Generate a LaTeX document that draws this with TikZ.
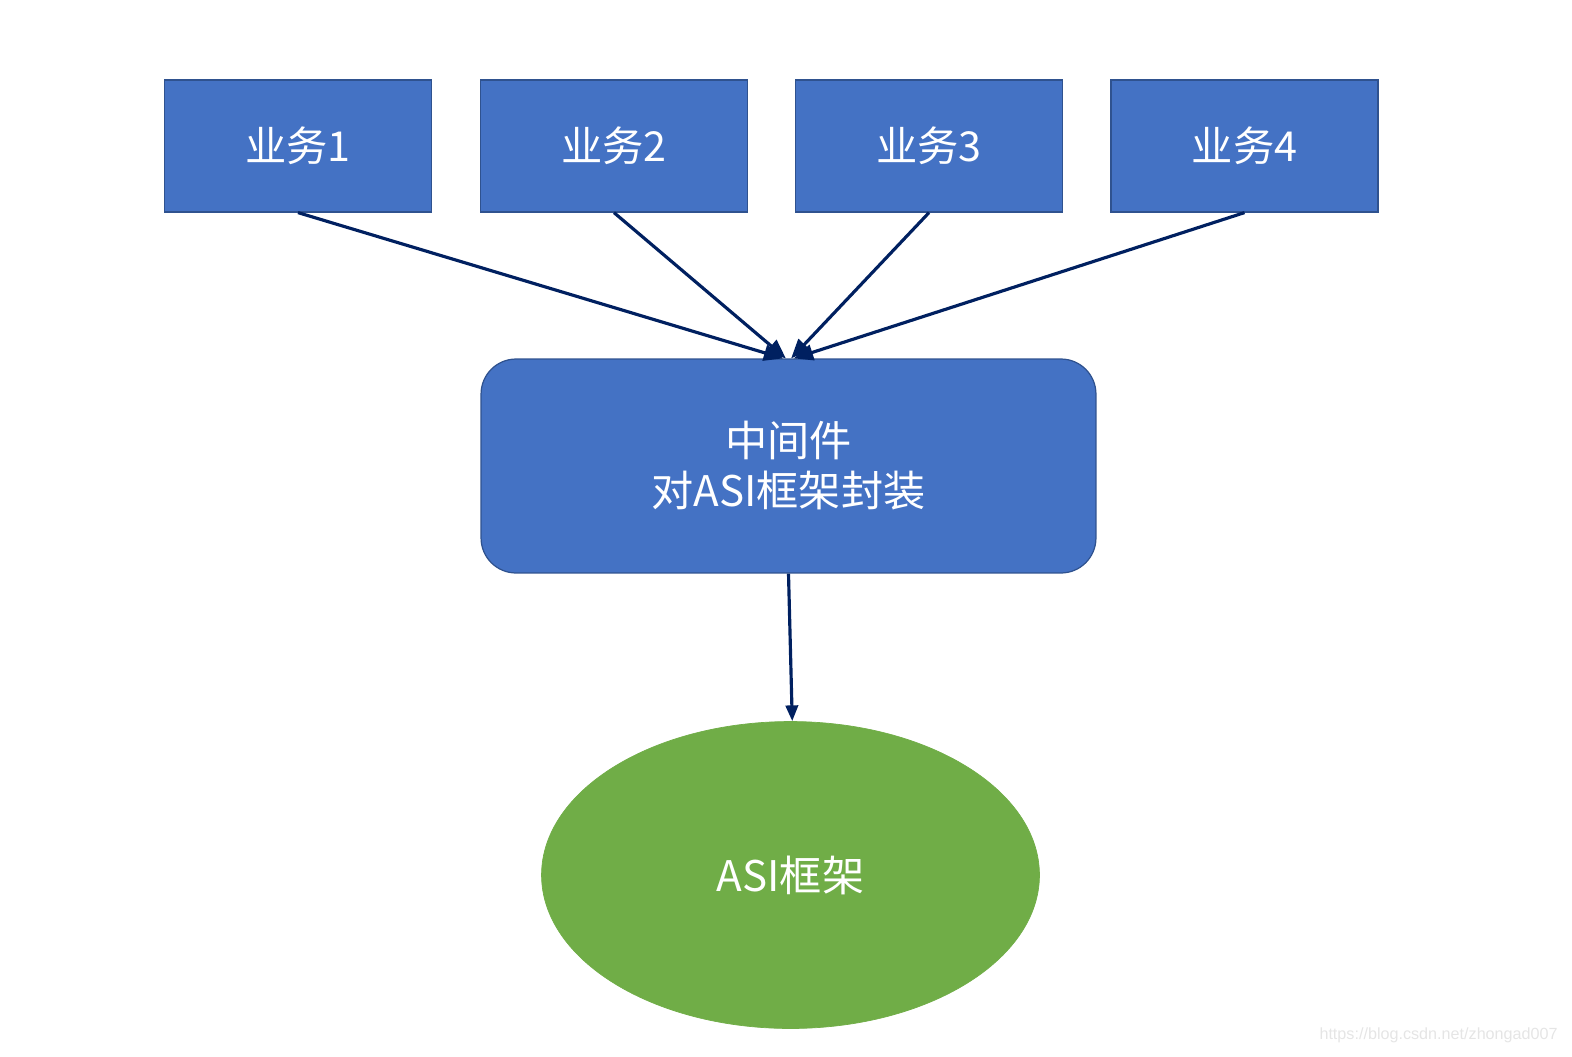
\documentclass[tikz,border=0pt]{standalone}
\usepackage{fontspec}
\setmainfont{Noto Sans CJK SC}
\newfontfamily\markfont{Liberation Sans}
\usetikzlibrary{shapes.geometric}
\usetikzlibrary{arrows.meta}
\definecolor{boxblue}{HTML}{4472C4}
\definecolor{boxline}{HTML}{2F528F}
\definecolor{arrowblue}{HTML}{002060}
\definecolor{leafgreen}{HTML}{70AD47}
\tikzset{%
    job/.style={shape=rectangle,draw=boxline,fill=boxblue,line width=0.7pt,minimum width=5.34cm,minimum height=2.64cm,inner sep=0pt,text=white,font=\fontsize{23.5}{29}\selectfont},
    middleware/.style={shape=rectangle,rounded corners=0.7cm,draw=boxline,fill=boxblue,line width=0.7pt,minimum width=12.3cm,minimum height=4.28cm,inner sep=0pt,text=white,align=center,font=\fontsize{24}{28.5}\selectfont},
    framework/.style={shape=ellipse,draw=leafgreen,fill=leafgreen,minimum width=9.96cm,minimum height=6.14cm,inner sep=0pt,text=white,font=\fontsize{24}{29}\selectfont},
    link/.style={-{Triangle[length=11pt,width=9pt]},draw=arrowblue,line width=1.8pt},
}
\begin{document}
\begin{tikzpicture}[x=0.02cm,y=-0.02cm]
	\useasboundingbox (0,0) rectangle (1572,1056);
	
	%business boxes
	\node[job] (job1) at (298,146) {业务1};
	\node[job] (job2) at (614,146) {业务2};
	\node[job] (job3) at (929,146) {业务3};
	\node[job] (job4) at (1244.5,146) {业务4};
	%%%%%%%%%%%%%%%%%%%
	
	\node[middleware] (mw) at (788.5,466) {中间件\\对ASI框架封装};
	\node[framework] (asi) at (790.5,875) {ASI框架};
	
	\draw[link] (job1.south) -- ([xshift=-3pt]mw.north);
	\draw[link] (job2.south) -- ([xshift=-1.5pt]mw.north);
	\draw[link] (job3.south) -- ([xshift=1.5pt]mw.north);
	\draw[link] (job4.south) -- ([xshift=3pt]mw.north);
	
	\draw[link,-{Triangle[length=9pt,width=7pt]}] (mw.south) -- ([xshift=1pt]asi.north);
	
	\node[anchor=base east,inner sep=0pt,text=black!10,font=\markfont\fontsize{9.2}{11}\selectfont] (mark) at (1558,1039) {https://blog.csdn.net/zhongad007};
	
\end{tikzpicture}
\end{document}
